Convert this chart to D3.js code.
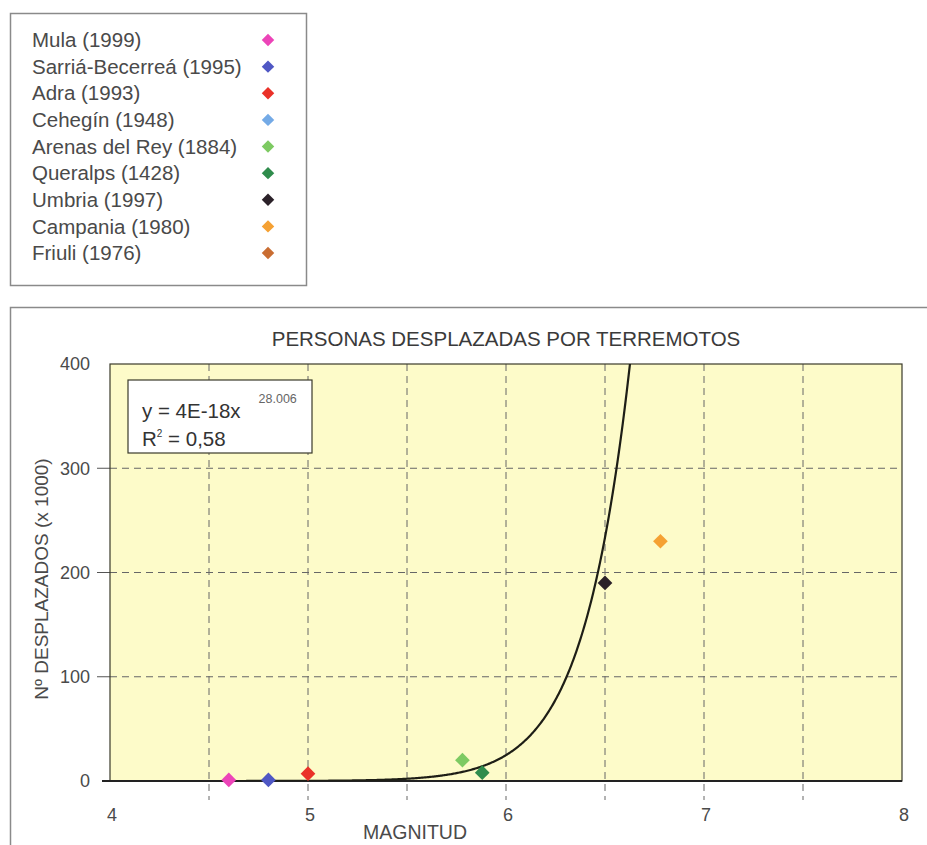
<!DOCTYPE html>
<html>
<head>
<meta charset="utf-8">
<script src="https://cdn.jsdelivr.net/npm/d3@7"></script>
<style>
  html, body { margin: 0; padding: 0; background: #ffffff; }
  svg { display: block; font-family: "Liberation Sans", Arial, sans-serif; }
</style>
</head>
<body>
<svg id="chart" width="927" height="845"></svg>
<script>
// Earthquakes: name, magnitude, displaced persons (thousands)
const quakes = ["Mula (1999)", "Sarriá-Becerreá (1995)", "Adra (1993)", "Cehegín (1948)",
                "Arenas del Rey (1884)", "Queralps (1428)", "Umbria (1997)", "Campania (1980)", "Friuli (1976)"];
const magnitudes = [4.6, 4.8, 5.0, null, 5.78, 5.88, 6.5, 6.78, null];
const displaced = [1, 1, 7, null, 20, 8, 190, 230, null];
const colors = ["#ec44b8", "#4f57c4", "#ea3128", "#74aae6", "#7dca62", "#2f8c4c", "#2b2129", "#f5a133", "#c96d32"];

// Power trendline y = a * x^b (persons), plotted in thousands
const fitA = 4e-18, fitB = 28.006;
const fitLabel = "y = 4E-18x", fitExp = "28.006", r2Label = "0,58";

const xTicks = [4, 5, 6, 7, 8];
const xGrid = [4.5, 5, 5.5, 6, 6.5, 7, 7.5];
const yTicks = [0, 100, 200, 300, 400];

const svg = d3.select("#chart");
const plot = { left: 110, right: 902, top: 364, bottom: 781 };

const x = d3.scaleLinear().domain([4, 8]).range([plot.left, plot.right]);
const y = d3.scaleLinear().domain([0, 400]).range([plot.bottom, plot.top]);

const textCol = "#4a4a4a";

// Square diamond marker (square turned 45°)
const diamondPath = s => d3.symbol().type(d3.symbolSquare).size(s)();

// ---- Legend ----
const lg = svg.append("g");
lg.append("rect").attr("x", 10.5).attr("y", 13.5).attr("width", 296).attr("height", 272)
  .attr("fill", "#fff").attr("stroke", "#8a8a8a").attr("stroke-width", 1.5);
const rowY = d3.scaleLinear().domain([0, quakes.length - 1]).range([40, 253]);
quakes.forEach((q, i) => {
  lg.append("text").attr("x", 32).attr("y", rowY(i)).attr("dy", "0.35em")
    .attr("font-size", 20.5).attr("fill", textCol).text(q);
  lg.append("path").attr("d", diamondPath(78)).attr("transform", `translate(268,${rowY(i)}) rotate(45)`)
    .attr("fill", colors[i]);
});

// ---- Chart frame ----
svg.append("path").attr("d", "M10.5,845 L10.5,307.5 L927,307.5")
  .attr("fill", "none").attr("stroke", "#8a8a8a").attr("stroke-width", 1.5);

svg.append("text").attr("x", 506).attr("y", 346).attr("text-anchor", "middle")
  .attr("font-size", 20.5).attr("fill", "#3a3a3a").text("PERSONAS DESPLAZADAS POR TERREMOTOS");

// Plot area
svg.append("rect").attr("x", plot.left).attr("y", plot.top)
  .attr("width", plot.right - plot.left).attr("height", plot.bottom - plot.top)
  .attr("fill", "#fdfbc9");

// Vertical dashed gridlines (extending below the axis as ticks)
svg.append("g").selectAll("line").data(xGrid).join("line")
  .attr("x1", d => x(d)).attr("x2", d => x(d))
  .attr("y1", plot.top).attr("y2", plot.bottom + 19)
  .attr("stroke", "#666").attr("stroke-width", 1).attr("stroke-dasharray", "7,5");

// Horizontal dashed gridlines
svg.append("g").selectAll("line").data(yTicks.filter(d => d > 0 && d < 400)).join("line")
  .attr("x1", plot.left).attr("x2", plot.right)
  .attr("y1", d => y(d)).attr("y2", d => y(d))
  .attr("stroke", "#666").attr("stroke-width", 1).attr("stroke-dasharray", "7,5");

// Y tick marks
svg.append("g").selectAll("line").data(yTicks.filter(d => d > 0 && d < 400)).join("line")
  .attr("x1", plot.left - 13).attr("x2", plot.left)
  .attr("y1", d => y(d)).attr("y2", d => y(d))
  .attr("stroke", "#555").attr("stroke-width", 1);

// Frame
svg.append("rect").attr("x", plot.left).attr("y", plot.top)
  .attr("width", plot.right - plot.left).attr("height", plot.bottom - plot.top)
  .attr("fill", "none").attr("stroke", "#3a3a2a").attr("stroke-width", 1.2);
svg.append("line").attr("x1", plot.left - 8).attr("x2", plot.right)
  .attr("y1", plot.bottom).attr("y2", plot.bottom)
  .attr("stroke", "#222").attr("stroke-width", 2);

// Tick labels
svg.append("g").selectAll("text").data(yTicks).join("text")
  .attr("x", 90).attr("y", d => y(d)).attr("dy", "0.35em").attr("text-anchor", "end")
  .attr("font-size", 18).attr("fill", textCol).text(d => d);
svg.append("g").selectAll("text").data(xTicks).join("text")
  .attr("x", d => x(d) + 2).attr("y", 815).attr("dy", "0.35em").attr("text-anchor", "middle")
  .attr("font-size", 18).attr("fill", textCol).text(d => d);

// Axis titles
svg.append("text").attr("x", 415).attr("y", 839).attr("text-anchor", "middle")
  .attr("font-size", 19.5).attr("fill", textCol).text("MAGNITUD");
svg.append("text").attr("transform", `translate(41,579) rotate(-90)`)
  .attr("text-anchor", "middle").attr("dy", "0.35em")
  .attr("font-size", 19).attr("fill", textCol).text("Nº DESPLAZADOS (x 1000)");

// Trendline, clipped to the plot area
svg.append("clipPath").attr("id", "clip").append("rect")
  .attr("x", plot.left).attr("y", plot.top)
  .attr("width", plot.right - plot.left).attr("height", plot.bottom - plot.top);
const xs = magnitudes.filter(v => v != null);
const curveXs = d3.range(d3.min(xs), d3.max(xs) + 0.0001, 0.005);
const fit = m => fitA * Math.pow(m, fitB) / 1000;
svg.append("path").attr("clip-path", "url(#clip)")
  .attr("d", d3.line().x(m => x(m)).y(m => y(Math.min(fit(m), 450)))(curveXs))
  .attr("fill", "none").attr("stroke", "#1e1e16").attr("stroke-width", 2.2);

// Data points
const pts = quakes.map((q, i) => ({ q, m: magnitudes[i], v: displaced[i], c: colors[i] }))
  .filter(d => d.m != null && d.v != null);
svg.append("g").selectAll("path").data(pts).join("path")
  .attr("d", diamondPath(108))
  .attr("transform", d => `translate(${x(d.m)},${y(d.v)}) rotate(45)`)
  .attr("fill", d => d.c);

// Equation box
const eq = svg.append("g");
eq.append("rect").attr("x", 128).attr("y", 380).attr("width", 184).attr("height", 73)
  .attr("fill", "#fff").attr("stroke", "#3a3a2a").attr("stroke-width", 1.2);
const t1 = eq.append("text").attr("x", 142).attr("y", 418).attr("font-size", 20.5).attr("fill", "#333");
t1.append("tspan").text(fitLabel);
t1.append("tspan").attr("dx", 18).attr("dy", -15).attr("font-size", 12.5).attr("fill", "#666").text(fitExp);
const t2 = eq.append("text").attr("x", 142).attr("y", 446).attr("font-size", 20.5).attr("fill", "#333");
t2.append("tspan").text("R");
t2.append("tspan").attr("dy", -9).attr("font-size", 10).text("2");
t2.append("tspan").attr("dy", 9).text(" = " + r2Label);
</script>
</body>
</html>
